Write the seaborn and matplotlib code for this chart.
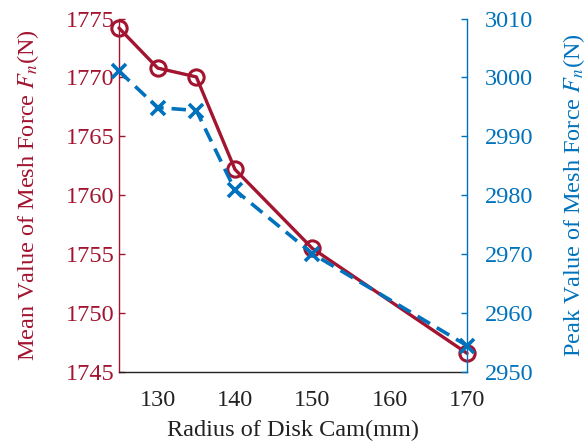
import matplotlib
matplotlib.use("Agg")
import matplotlib.pyplot as plt
import seaborn as sns
import pandas as pd

# Disk cam radius (mm) and resulting mesh force statistics (N)
radius = [125, 130, 135, 140, 150, 170]
mean_force = [1774.2, 1770.8, 1770.05, 1762.2, 1755.5, 1746.6]
peak_force = [3001.1, 2994.9, 2994.4, 2980.9, 2970.1, 2954.5]

x_ticks = [130, 140, 150, 160, 170]
left_ticks = [1745, 1750, 1755, 1760, 1765, 1770, 1775]
right_ticks = [2950, 2960, 2970, 2980, 2990, 3000, 3010]

RED = "#A2142F"
BLUE = "#0072BD"
SERIF = ["Liberation Serif", "DejaVu Serif"]

sns.set_style("white")
plt.rcParams["font.family"] = SERIF
plt.rcParams["mathtext.fontset"] = "stix"

df = pd.DataFrame({"radius": radius, "mean": mean_force, "peak": peak_force})

fig = plt.figure(figsize=(5.86, 4.42), dpi=100)
ax = fig.add_axes([0.203, 0.158, 0.594, 0.800])
ax2 = ax.twinx()

sns.lineplot(data=df, x="radius", y="mean", ax=ax, color=RED, linewidth=2.4,
             marker="o", markersize=11, markerfacecolor="none",
             markeredgecolor=RED, markeredgewidth=2.2, zorder=3)
sns.lineplot(data=df, x="radius", y="peak", ax=ax2, color=BLUE, linewidth=2.6,
             linestyle=(0, (4, 2.2)), marker="x", markersize=10,
             markeredgecolor=BLUE, markeredgewidth=2.6, zorder=3)

ax.set_xlim(125, 170)
ax.set_ylim(1745, 1775)
ax2.set_ylim(2950, 3010)
ax.set_xticks(x_ticks)
ax.set_yticks(left_ticks)
ax2.set_yticks(right_ticks)

fs = 17.5
ax.set_xlabel("Radius of Disk Cam(mm)", fontsize=fs, color="#222222", labelpad=6.5)
ax.set_ylabel("Mean Value of Mesh Force $F_n$(N)", fontsize=fs, color=RED, labelpad=18)
ax2.set_ylabel("Peak Value of Mesh Force $F_n$(N)", fontsize=fs, color=BLUE, labelpad=20)

ax.tick_params(axis="x", direction="in", length=4, width=1, colors="#222222",
               labelsize=fs, pad=12.5)
ax.tick_params(axis="y", direction="in", length=4, width=1, colors=RED,
               labelsize=fs, pad=3)
ax2.tick_params(axis="y", direction="in", length=4, width=1, colors=BLUE,
                labelsize=fs, pad=13)

for lbl in ax.get_xticklabels() + ax.get_yticklabels() + ax2.get_yticklabels():
    lbl.set_fontfamily(SERIF)

for a in (ax, ax2):
    a.spines["top"].set_visible(False)
ax.spines["right"].set_visible(False)
ax2.spines["left"].set_visible(False)
ax2.spines["bottom"].set_visible(False)
ax.spines["left"].set_color(RED)
ax.spines["bottom"].set_color("#222222")
ax2.spines["right"].set_color(BLUE)
for s in ("left", "bottom"):
    ax.spines[s].set_linewidth(1)
ax2.spines["right"].set_linewidth(1)

for a in (ax, ax2):
    for ln in a.lines:
        ln.set_clip_on(False)

fig.savefig("out.png", dpi=100)
